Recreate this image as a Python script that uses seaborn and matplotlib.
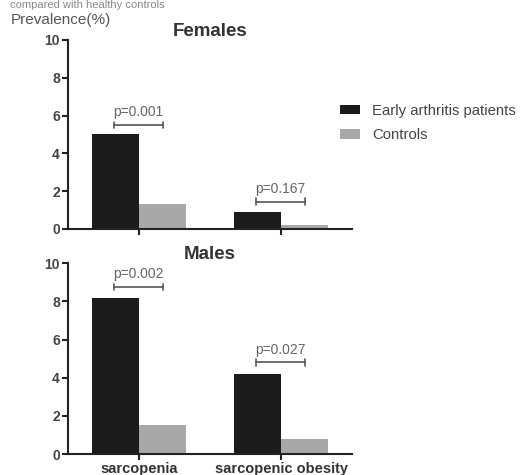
import pandas as pd
import matplotlib
matplotlib.use("Agg")
import matplotlib.pyplot as plt
import seaborn as sns

# data
categories = ["sarcopenia", "sarcopenic obesity"]
groups = ["Early arthritis patients", "Controls"]
females_patients = [5.0, 0.9]
females_controls = [1.3, 0.2]
males_patients = [8.2, 4.2]
males_controls = [1.5, 0.8]
females_p = ["p=0.001", "p=0.167"]
males_p = ["p=0.002", "p=0.027"]
females_bracket_y = [5.5, 1.45]
males_bracket_y = [8.75, 4.8]
y_ticks = [0, 2, 4, 6, 8, 10]

sns.set_style("ticks")
plt.rcParams["font.family"] = ["Liberation Sans", "DejaVu Sans"]

def make_df(patients, controls):
    rows = []
    for c, v in zip(categories, patients):
        rows.append({"category": c, "group": groups[0], "value": v})
    for c, v in zip(categories, controls):
        rows.append({"category": c, "group": groups[1], "value": v})
    return pd.DataFrame(rows)

palette = {groups[0]: "#1b1b1b", groups[1]: "#a8a8a8"}
fig = plt.figure(figsize=(5.2, 4.75), dpi=100)
ax_f = fig.add_axes([0.131, 0.518, 0.546, 0.398])
ax_m = fig.add_axes([0.131, 0.044, 0.546, 0.402])

panels = [
    (ax_f, make_df(females_patients, females_controls), "Females", females_p, females_bracket_y),
    (ax_m, make_df(males_patients, males_controls), "Males", males_p, males_bracket_y),
]

for ax, df, title, plabels, by in panels:
    sns.barplot(data=df, x="category", y="value", hue="group", order=categories,
                hue_order=groups, palette=palette, width=0.66, saturation=1,
                edgecolor="none", ax=ax)
    ax.set_xlim(-0.5, 1.5)
    ax.set_ylim(0, 10)
    ax.set_yticks(y_ticks)
    ax.set_xlabel("")
    ax.set_ylabel("")
    sns.despine(ax=ax)
    for s in ["left", "bottom"]:
        ax.spines[s].set_linewidth(1.5)
        ax.spines[s].set_color("#222222")
    ax.tick_params(axis="both", width=1.5, length=4, color="#222222",
                   labelcolor="#444444", labelsize=10, pad=2)
    for lab in ax.get_yticklabels():
        lab.set_fontweight("bold")
    ax.set_title(title, fontsize=13.5, fontweight="bold", color="#333333", pad=3)
    if ax.get_legend() is not None:
        ax.get_legend().remove()
    # significance brackets
    for i, (txt, yb) in enumerate(zip(plabels, by)):
        x0, x1 = i - 0.18, i + 0.17
        ax.plot([x0, x1], [yb, yb], color="#555555", lw=1.2)
        ax.plot([x0, x0], [yb - 0.18, yb + 0.18], color="#555555", lw=1.2)
        ax.plot([x1, x1], [yb - 0.18, yb + 0.18], color="#555555", lw=1.2)
        ax.text((x0 + x1) / 2, yb + 0.3, txt, ha="center", va="bottom",
                fontsize=10, color="#666666")

ax_f.set_xticklabels([])
ax_m.set_xticklabels(categories, fontsize=10.5, fontweight="bold", color="#333333")

handles, labels = ax_f.get_legend_handles_labels()
fig.legend(handles, labels, loc="center left", bbox_to_anchor=(0.628, 0.741),
           frameon=False, fontsize=10.7, handlelength=1.35, handleheight=0.6,
           handletextpad=0.8, labelspacing=0.72, labelcolor="#444444")

fig.text(0.02, 0.958, "Prevalence(%)", fontsize=11, color="#555555", va="center")
fig.text(0.02, 0.999, "compared with healthy controls", fontsize=8, color="#888888",
         va="top")

fig.savefig("out.png", dpi=100)
